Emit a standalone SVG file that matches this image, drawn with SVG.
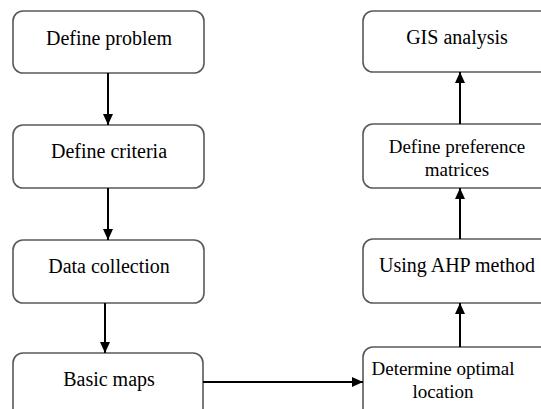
<svg xmlns="http://www.w3.org/2000/svg" width="541" height="409" viewBox="0 0 541 409">
<defs>
<style>
.box{fill:#fff;stroke:#595959;stroke-width:1.6}
text{font-family:'Liberation Serif','Times New Roman',serif;font-size:20px;fill:#000;text-anchor:middle}
.s{font-size:19px}
.c{stroke:#000;stroke-width:2;fill:none;marker-end:url(#ah)}
</style>
<marker id="ah" viewBox="0 0 11 12" refX="11" refY="6" markerWidth="11" markerHeight="12" markerUnits="userSpaceOnUse" orient="auto">
<path d="M0,1 L11,6 L0,11 Z" fill="#000"/>
</marker>
</defs>
<rect width="541" height="409" fill="#fff"/>
<g id="n1"><rect class="box" x="13" y="11" width="191" height="62" rx="10"/><text x="109" y="45">Define problem</text></g>
<g id="n2"><rect class="box" x="13" y="125" width="191" height="63" rx="10"/><text x="109" y="158">Define criteria</text></g>
<g id="n3"><rect class="box" x="13" y="240" width="191" height="63" rx="10"/><text x="109" y="273">Data collection</text></g>
<g id="n4"><rect class="box" x="13" y="353" width="190" height="70" rx="10"/><text x="109" y="386">Basic maps</text></g>
<g id="n5"><rect class="box" x="363" y="11" width="190" height="61" rx="10"/><text x="457" y="44">GIS analysis</text></g>
<g id="n6"><rect class="box" x="363" y="124" width="190" height="64" rx="10"/><text class="s" x="457" y="153">Define preference</text><text class="s" x="457" y="176">matrices</text></g>
<g id="n7"><rect class="box" x="363" y="239" width="190" height="64" rx="10"/><text x="457" y="272">Using AHP method</text></g>
<g id="n8"><rect class="box" x="363" y="347" width="190" height="76" rx="10"/><text class="s" x="443" y="375">Determine optimal</text><text class="s" x="443" y="398">location</text></g>
<g id="connectors">
<line class="c" x1="108" y1="73" x2="108" y2="125"/>
<line class="c" x1="108" y1="188" x2="108" y2="240"/>
<line class="c" x1="105" y1="303" x2="105" y2="353"/>
<line class="c" x1="203" y1="382" x2="363" y2="382"/>
<line class="c" x1="460" y1="347" x2="460" y2="303"/>
<line class="c" x1="460" y1="239" x2="460" y2="188"/>
<line class="c" x1="460" y1="124" x2="460" y2="72"/>
</g>
</svg>
